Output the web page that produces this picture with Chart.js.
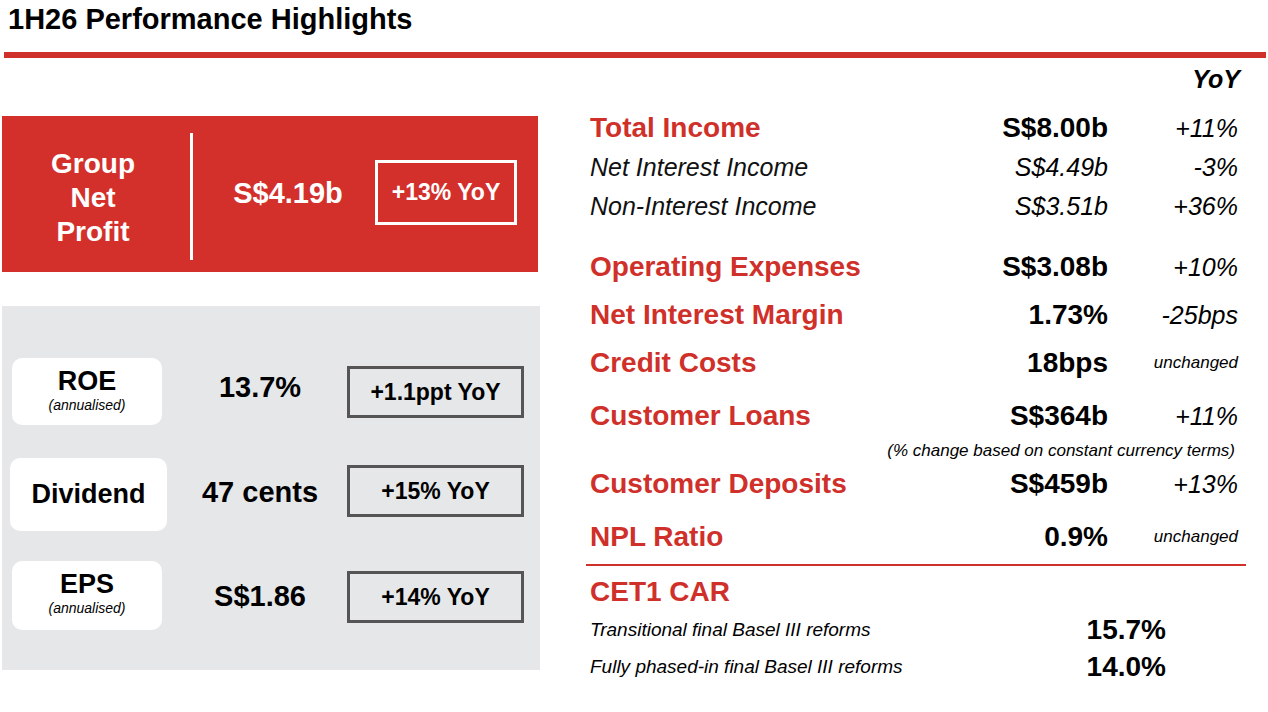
<!DOCTYPE html>
<html><head><meta charset="utf-8">
<script src="https://cdn.jsdelivr.net/npm/chart.js@4/dist/chart.umd.min.js"></script>
<style>
body{margin:0;width:1268px;height:712px;background:#fff;font-family:"Liberation Sans",Arial,sans-serif;position:relative;overflow:hidden}
.a{position:absolute;white-space:nowrap}
.red{color:#d0302a}
.lbl{position:absolute;left:590px;transform:translateY(-50%);white-space:nowrap}
.val{position:absolute;right:160px;transform:translateY(-50%);white-space:nowrap}
.yoy{position:absolute;right:30px;transform:translateY(-50%);white-space:nowrap;font-style:italic}
.wb{position:absolute;background:#fff;border-radius:10px;text-align:center}
.ob{position:absolute;border:3px solid #555;box-sizing:border-box;display:flex;align-items:center;justify-content:center;font-weight:bold;font-size:23px}
.mv{position:absolute;transform:translate(-50%,-50%);font-weight:bold;font-size:29px;white-space:nowrap}
</style></head><body>
<div class="a" style="left:8px;top:3px;font-size:29px;font-weight:bold">1H26 Performance Highlights</div>
<div class="a" style="left:4px;top:52px;width:1262px;height:6px;background:#d0302a"></div>
<div class="a" style="right:28px;top:65px;font-size:25px;font-weight:bold;font-style:italic">YoY</div>

<div class="a" style="left:2px;top:116px;width:536px;height:156px;background:#d4302b"></div>
<div class="a" style="left:20px;top:147px;width:146px;text-align:center;color:#fff;font-weight:bold;font-size:28px;line-height:34px;white-space:normal">Group<br>Net<br>Profit</div>
<div class="a" style="left:190px;top:133px;width:3px;height:127px;background:#fff"></div>
<div class="mv" style="left:288px;top:193px;color:#fff" id="np"></div>
<div class="ob" style="left:375px;top:160px;width:142px;height:65px;border-color:#fff;color:#fff" id="npy"></div>

<div class="a" style="left:2px;top:306px;width:538px;height:364px;background:#e6e7e9"></div>
<div id="left"></div>
<div id="right"></div>
<div class="a" style="left:586px;top:564px;width:660px;height:2px;background:#d0302a"></div>
<canvas id="c" style="position:absolute;left:0;top:0;width:1px;height:1px;opacity:0"></canvas>
<script>
const netProfit=["S$4.19b","+13% YoY"];
const metricNames=["ROE","Dividend","EPS"];
const metricSubs=["(annualised)","","(annualised)"];
const metricValues=["13.7%","47 cents","S$1.86"];
const metricYoY=["+1.1ppt YoY","+15% YoY","+14% YoY"];
const rowLabels=["Total Income","Net Interest Income","Non-Interest Income","Operating Expenses","Net Interest Margin","Credit Costs","Customer Loans","Customer Deposits","NPL Ratio"];
const rowValues=["S$8.00b","S$4.49b","S$3.51b","S$3.08b","1.73%","18bps","S$364b","S$459b","0.9%"];
const rowYoY=["+11%","-3%","+36%","+10%","-25bps","unchanged","+11%","+13%","unchanged"];
const rowY=[128,167,206,267,315,363,416,484,537];
const cetLabels=["Transitional final Basel III reforms","Fully phased-in final Basel III reforms"];
const cetValues=["15.7%","14.0%"];

document.getElementById('np').textContent=netProfit[0];
document.getElementById('npy').textContent=netProfit[1];
const boxes=[[12,358,150,67,387,366],[10,458,157,73,492,465],[12,561,150,69,596,571]];
let L='';
metricNames.forEach((n,i)=>{const b=boxes[i];
L+=`<div class="wb" style="left:${b[0]}px;top:${b[1]}px;width:${b[2]}px;height:${b[3]}px"><div style="font-weight:bold;font-size:27px;margin-top:${metricSubs[i]?8:21}px">${n}</div><div style="font-style:italic;font-size:14px">${metricSubs[i]}</div></div>`;
L+=`<div class="mv" style="left:260px;top:${b[4]}px">${metricValues[i]}</div>`;
L+=`<div class="ob" style="left:347px;top:${b[5]}px;width:177px;height:52px">${metricYoY[i]}</div>`;});
document.getElementById('left').innerHTML=L;
let R='';
rowLabels.forEach((l,i)=>{const sub=(i==1||i==2);const y=rowY[i];
const small=rowYoY[i]=='unchanged';
R+=`<div class="lbl" style="top:${y}px;${sub?'font-style:italic;font-size:25px;color:#111':'font-weight:bold;font-size:28px;color:#d0302a'}">${l}</div>`;
R+=`<div class="val" style="top:${y}px;${sub?'font-style:italic;font-size:25px':'font-weight:bold;font-size:28px'}">${rowValues[i]}</div>`;
R+=`<div class="yoy" style="top:${y}px;font-size:${small?17:25}px">${rowYoY[i]}</div>`;});
R+=`<div class="yoy" style="top:451px;right:33px;font-size:17px">(% change based on constant currency terms)</div>`;
R+=`<div class="lbl red" style="top:592px;font-weight:bold;font-size:28px">CET1 CAR</div>`;
cetLabels.forEach((l,i)=>{const y=630+i*37;
R+=`<div class="lbl" style="top:${y}px;font-style:italic;font-size:19px">${l}</div>`;
R+=`<div class="val" style="top:${y}px;right:102px;font-weight:bold;font-size:28px">${cetValues[i]}</div>`;});
document.getElementById('right').innerHTML=R;
new Chart(document.getElementById('c'),{type:'bar',data:{labels:[],datasets:[]},options:{animation:false,responsive:false,plugins:{legend:{display:false}}}});
</script></body></html>
